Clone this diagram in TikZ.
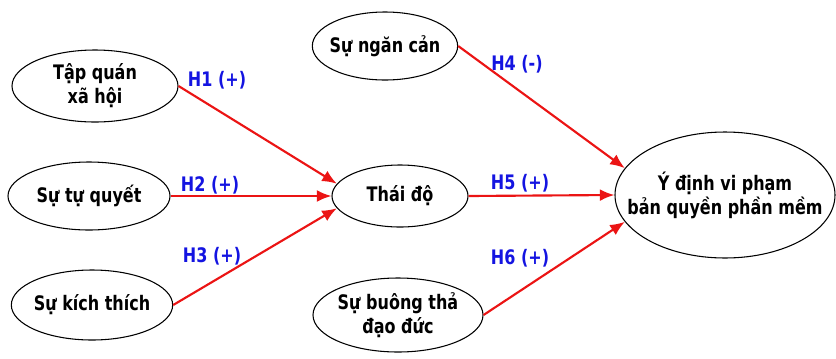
\documentclass[tikz,border=0pt]{standalone}
\usepackage{fontspec}
\setmainfont[FakeStretch=0.8]{DejaVu Sans}
\usetikzlibrary{arrows.meta,shapes.geometric}
\definecolor{hblue}{RGB}{20,20,225}
\definecolor{hred}{RGB}{235,20,20}

\begin{document}
\begin{tikzpicture}[x=0.75pt,y=-0.75pt,
        oval/.style={draw, ellipse, line width=0.8pt, inner sep=0pt},
        txt/.style={font=\fontsize{15}{18}\selectfont\bfseries, align=center},
        hyp/.style={font=\fontsize{15}{17}\selectfont\bfseries, text=hblue},
        arr/.style={hred, line width=1.6pt, -{Latex[length=11pt,width=9pt]}}]
        \useasboundingbox (0,0) rectangle (836,358);
        \node[oval, minimum width=124.5pt, minimum height=54pt] (tap) at (95,86) {};
        \node[txt] (taptxt) at (tap) {Tập quán\\xã hội};
        \node[oval, minimum width=121.5pt, minimum height=51pt] (tuquyet) at (89,196) {};
        \node[txt] (tuquyettxt) at (tuquyet) {Sự tự quyết};
        \node[oval, minimum width=121pt, minimum height=52.5pt] (kich) at (92,305) {};
        \node[txt] (kichtxt) at (kich) {Sự kích thích};
        \node[oval, minimum width=109pt, minimum height=51pt] (ngan) at (385,46) {};
        \node[txt] (ngantxt) at (ngan) {Sự ngăn cản};
        \node[oval, minimum width=102pt, minimum height=46.5pt] (thai) at (400,196) {};
        \node[txt] (thaitxt) at (thai) {Thái độ};
        \node[oval, minimum width=127.5pt, minimum height=55.5pt] (buong) at (398,315) {};
        \node[txt] (buongtxt) at (buong) {Sự buông thả\\đạo đức};
        \node[oval, minimum width=165pt, minimum height=94.5pt] (ydinh) at (725,195) {};
        \node[txt] (ydinhtxt) at (ydinh) {Ý định vi phạm\\bản quyền phần mềm};
        \draw[arr] (tap.east) -- (thai.169);
        \draw[arr] (tuquyet.east) -- (thai.west);
        \draw[arr] (kich.east) -- (thai.191);
        \draw[arr] (ngan.east) -- (ydinh.165);
        \draw[arr] (thai.east) -- (ydinh.west);
        \draw[arr] (buong.east) -- (ydinh.195);
        \node[hyp] (h1) at (217,80) {H1 (+)};
        \node[hyp] (h2) at (210,185) {H2 (+)};
        \node[hyp] (h3) at (212,256) {H3 (+)};
        \node[hyp] (h4) at (517,64) {H4 (-)};
        \node[hyp] (h5) at (520,183) {H5 (+)};
        \node[hyp] (h6) at (520,258) {H6 (+)};
    \end{tikzpicture}
\end{document}
